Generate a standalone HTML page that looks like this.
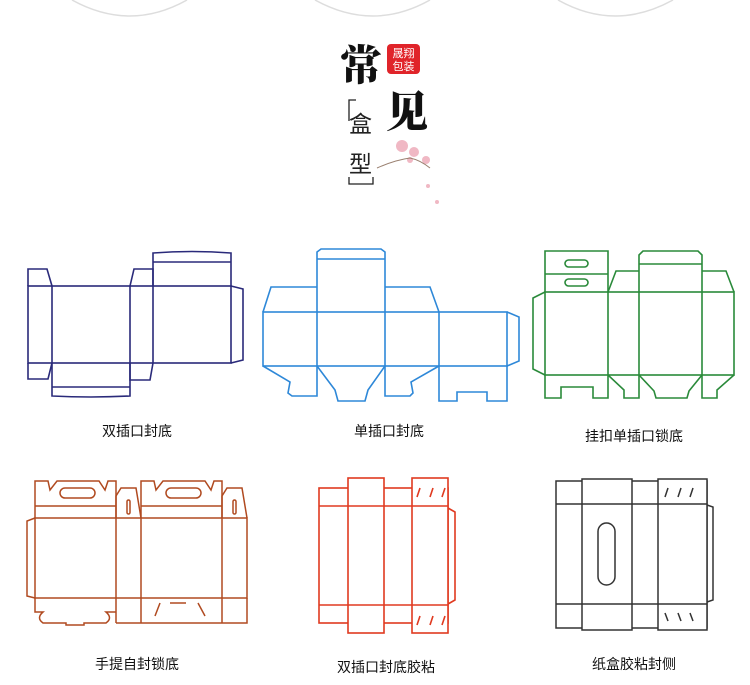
<!DOCTYPE html>
<html><head><meta charset="utf-8"><style>
html,body{margin:0;padding:0;background:#fff;}
body{width:750px;height:685px;position:relative;overflow:hidden;}
svg{position:absolute;left:0;top:0;}
.t{font-family:"Liberation Sans","Noto Sans CJK SC",sans-serif;font-size:14px;fill:#111;}
</style></head><body>
<svg width="750" height="685" viewBox="0 0 750 685" xmlns="http://www.w3.org/2000/svg">
<g fill="none" stroke="#ddd" stroke-width="1.5">
<path d="M72,0 Q130,32 187,0"/><path d="M315,0 Q373,32 430,0"/><path d="M558,0 Q615,32 673,0"/>
</g>
<text x="340" y="80" font-family="'Noto Serif CJK SC',serif" font-weight="900" font-size="42" fill="#111">常</text>
<text x="386" y="127" font-family="'Noto Serif CJK SC',serif" font-weight="900" font-size="42" fill="#111">见</text>
<rect x="387" y="44" width="33" height="30" rx="4" fill="#e0242a"/>
<text x="403.5" y="57" text-anchor="middle" font-family="'Noto Sans CJK SC',sans-serif" font-size="11" fill="#fff">晟翔</text>
<text x="403.5" y="70" text-anchor="middle" font-family="'Noto Sans CJK SC',sans-serif" font-size="11" fill="#fff">包装</text>
<g font-family="'Noto Sans CJK SC',sans-serif" font-size="23" fill="#222">
<text x="349" y="132">盒</text><text x="349" y="172">型</text>
</g>
<path d="M356,100 H349 V121 M349,177 V184 H373 V177" fill="none" stroke="#222" stroke-width="1.3"/>
<g fill="#f0b8c4"><circle cx="402" cy="146" r="6"/><circle cx="414" cy="152" r="5"/><circle cx="426" cy="160" r="4"/><circle cx="410" cy="160" r="3"/><circle cx="437" cy="202" r="2"/><circle cx="428" cy="186" r="2"/></g>
<path d="M377,168 Q395,160 410,158 Q420,160 430,168" fill="none" stroke="#9a8070" stroke-width="1"/>

<!-- Box1 navy -->
<g fill="none" stroke="#2a2a7a" stroke-width="1.6">
<path d="M28,286 V269 H47 L52,286"/>
<rect x="28" y="286" width="203" height="77"/>
<path d="M52,286 V363 M130,286 V363 M153,286 V363"/>
<path d="M130,286 L134,269 H153 V286"/>
<path d="M153,286 V253 Q192,250 231,253 V286 M153,262 H231"/>
<path d="M231,286 L243,289 V360 L231,363"/>
<path d="M28,363 V379 H48 L52,363"/>
<path d="M52,363 V396 Q91,398 130,396 V363 M52,387 H130"/>
<path d="M130,363 V380 H150 L153,363"/>
</g>
<!-- Box2 blue -->
<g fill="none" stroke="#2e88d8" stroke-width="1.6">
<rect x="263" y="312" width="244" height="54"/>
<path d="M317,312 V366 M385,312 V366 M439,312 V366"/>
<path d="M317,312 V252 L321,249 H381 L385,252 V312 M317,259 H385"/>
<path d="M263,312 L271,287 H317 M385,287 H430 L439,312"/>
<path d="M507,312 L519,317 V361 L507,366"/>
<path d="M263,366 L290,382 L288,393 L292,396 H317 V366"/>
<path d="M317,366 L335,390 L338,401 H365 L368,390 L385,366"/>
<path d="M385,366 V396 H410 L413,393 L411,382 L439,366"/>
<path d="M439,366 V401 H457 V392 H487 V401 H507 V366"/>
</g>
<!-- Box3 green -->
<g fill="none" stroke="#2a8a3a" stroke-width="1.6">
<rect x="545" y="292" width="189" height="83"/>
<path d="M608,292 V375 M639,292 V375 M702,292 V375"/>
<path d="M545,292 V251 H608 V292 M545,274 H608"/>
<rect x="565" y="260" width="23" height="7" rx="3.5"/><rect x="565" y="279" width="23" height="7" rx="3.5"/>
<path d="M545,292 L533,298 V369 L545,375"/>
<path d="M608,292 L616,271 H639 M639,292 V255 L643,251 H698 L702,255 V292 M639,264 H702 M702,271 H726 L734,292"/>
<path d="M545,375 V398 H561 V387 H593 V398 H608 V375"/>
<path d="M608,375 L624,390 V398 H639 V375"/>
<path d="M639,375 L654,391 L656,398 H687 L689,391 L702,375"/>
<path d="M702,375 V398 H717 V390 L734,375"/>
</g>
<!-- Box4 brown -->
<g fill="none" stroke="#b04a20" stroke-width="1.5">
<rect x="35" y="518" width="212" height="80"/>
<path d="M116,518 V623 M141,518 V623 M222,518 V623 M116,623 H141 M222,623 H247 V598 M141,623 H222"/>
<path d="M35,518 V481 H48 L50,490 L57,481 H99 L105,490 L108,481 H116 V518 M35,506 H116"/>
<path d="M141,518 V481 H154 L156,490 L163,481 H205 L211,490 L214,481 H222 V518 M141,506 H222"/>
<rect x="60" y="488" width="35" height="10" rx="5"/><rect x="166" y="488" width="35" height="10" rx="5"/>
<path d="M116,518 V496 L121,488 H136 L141,518"/><path d="M222,518 V496 L227,488 H242 L247,518"/>
<rect x="127" y="500" width="3" height="14" rx="1.5"/><rect x="233" y="500" width="3" height="14" rx="1.5"/>
<path d="M35,518 L27,521 V596 L35,598"/>
<path d="M35,598 V612 H43 Q36,618 43,623 H66 V625 H84 V623 H106 Q113,618 106,612 H116"/>
<path d="M160,603 L155,616 M170,603 H186 M198,603 L205,616"/>
</g>
<!-- Box5 red -->
<g fill="none" stroke="#e03a20" stroke-width="1.6">
<rect x="319" y="488" width="129" height="135"/>
<rect x="348" y="478" width="36" height="155" fill="#fff"/>
<rect x="412" y="478" width="36" height="155" fill="#fff"/>
<path d="M319,506 H448 M319,605 H448"/>
<path d="M448,508 L455,512 V600 L448,604"/>
<path d="M417,497 L420,488 M430,497 L433,488 M442,497 L445,488 M417,625 L420,616 M430,625 L433,616 M442,625 L445,616"/>
</g>
<!-- Box6 dark -->
<g fill="none" stroke="#333" stroke-width="1.5">
<rect x="556" y="481" width="151" height="147"/>
<rect x="582" y="479" width="50" height="151" fill="#fff"/>
<rect x="658" y="479" width="49" height="151" fill="#fff"/>
<path d="M556,504 H707 M556,604 H707"/>
<path d="M707,505 L713,507 V600 L707,602"/>
<rect x="598" y="523" width="17" height="62" rx="8.5"/>
<path d="M665,497 L668,488 M678,497 L681,488 M690,497 L693,488 M665,613 L668,621 M678,613 L681,621 M690,613 L693,621"/>
</g>
<text class="t" x="137" y="436" text-anchor="middle">双插口封底</text>
<text class="t" x="389" y="436" text-anchor="middle">单插口封底</text>
<text class="t" x="634" y="441" text-anchor="middle">挂扣单插口锁底</text>
<text class="t" x="137" y="669" text-anchor="middle">手提自封锁底</text>
<text class="t" x="386" y="672" text-anchor="middle">双插口封底胶粘</text>
<text class="t" x="634" y="669" text-anchor="middle">纸盒胶粘封侧</text>
</svg>
</body></html>
